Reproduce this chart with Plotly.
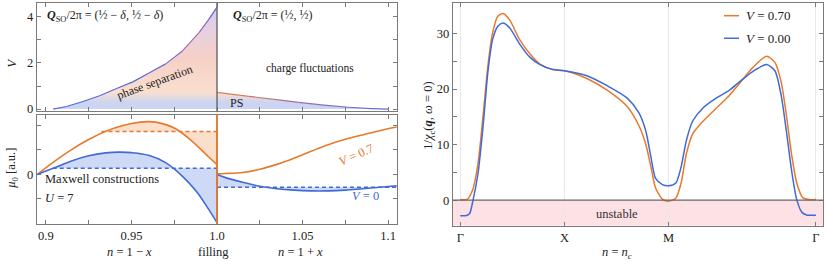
import plotly.graph_objects as go
from plotly.colors import sample_colorscale

# ---------------- data ----------------
# top panel: phase-separation boundary V_c(n)
n_ps_left = [0.9043, 0.912, 0.9217, 0.9314, 0.941, 0.9508, 0.960, 0.970, 0.9798, 0.9895, 0.9953, 1.0]
V_ps_left = [0.0, 0.11, 0.33, 0.58, 0.88, 1.18, 1.55, 1.96, 2.52, 3.31, 3.90, 4.42]
n_ps_right = [1.0, 1.0186, 1.036, 1.0477, 1.0625, 1.0767, 1.09, 1.1]
V_ps_right = [0.72, 0.55, 0.40, 0.29, 0.17, 0.08, 0.02, 0.0]

# bottom panel: mu_0(n)
n_hole = [0.895, 0.905, 0.915, 0.925, 0.935, 0.945, 0.955, 0.960, 0.965, 0.975, 0.985, 0.995, 1.0]
mu_hole_V07 = [0.0, 0.53, 1.01, 1.42, 1.76, 1.99, 2.13, 2.15, 2.12, 1.89, 1.38, 0.72, 0.40]
n_hole_b = [0.895, 0.905, 0.915, 0.925, 0.935, 0.943, 0.950, 0.960, 0.970, 0.980, 0.988, 0.994, 1.0]
mu_hole_V0 = [0.0, 0.27, 0.55, 0.76, 0.88, 0.91, 0.89, 0.78, 0.48, -0.09, -0.70, -1.30, -1.96]
n_elec = [1.0, 1.005, 1.015, 1.025, 1.035, 1.045, 1.055, 1.065, 1.075, 1.085, 1.095, 1.105]
mu_elec_V07 = [0.03, 0.04, 0.08, 0.21, 0.41, 0.66, 0.94, 1.21, 1.43, 1.61, 1.78, 1.93]
mu_elec_V0 = [0.0, -0.13, -0.32, -0.48, -0.58, -0.64, -0.67, -0.67, -0.64, -0.58, -0.52, -0.46]

# Maxwell constructions: (start, end, level)
maxwell_V07_hole = (0.9325, 1.0, 1.75)
maxwell_V0_hole = (0.904, 1.0, 0.25)
maxwell_V0_elec = (1.0, 1.105, -0.52)
n_half = 1.0

# axis ticks
x_major = [0.9, 0.95, 1.0, 1.05, 1.1]
x_major_labels = ["0.9", "0.95", "1.0", "1.05", "1.1"]
x_minor = [0.925, 0.975, 1.025, 1.075]

# right panel: 1/chi_c along Gamma-X-M-Gamma
k_ticks = [0, 1, 2, 3.414]
k_labels = ["Γ", "X", "M", "Γ"]
s_V07 = [0, 0.07, 0.12, 0.17, 0.22, 0.265, 0.31, 0.36, 0.41, 0.475, 0.57, 0.67, 0.765, 0.89, 1.0,
         1.215, 1.41, 1.60, 1.715, 1.78, 1.83, 1.875, 1.94, 2.0, 2.07, 2.12, 2.17, 2.23, 2.33, 2.46,
         2.585, 2.68, 2.81, 2.94, 3.02, 3.08, 3.13, 3.18, 3.23, 3.29, 3.35, 3.414]
chi_V07 = [0.1, 0.2, 1.9, 6.6, 15.4, 24.2, 30.1, 33.1, 33.6, 32.4, 28.9, 26.3, 24.5, 23.5, 23.3,
           21.9, 19.8, 16.9, 13.4, 10.1, 6.0, 2.2, 0.2, -0.2, 0.4, 3.1, 8.3, 11.9, 14.2, 16.6,
           18.9, 21.0, 23.9, 25.9, 24.8, 21.3, 15.4, 8.3, 3.1, 0.4, 0.1, 0.1]
s_V0 = [0, 0.06, 0.09, 0.12, 0.17, 0.22, 0.265, 0.31, 0.36, 0.41, 0.475, 0.57, 0.67, 0.765, 0.89, 1.0,
        1.215, 1.41, 1.60, 1.715, 1.78, 1.83, 1.875, 1.94, 2.0, 2.07, 2.12, 2.17, 2.23, 2.33, 2.46,
        2.585, 2.68, 2.81, 2.94, 3.02, 3.08, 3.13, 3.18, 3.23, 3.28, 3.33, 3.414]
chi_V0 = [-2.8, -2.75, -2.4, -0.2, 4.8, 13.6, 23.1, 28.9, 31.3, 31.9, 31.0, 28.1, 25.7, 24.4, 23.5, 23.3,
          22.4, 20.6, 18.4, 15.7, 12.5, 7.8, 3.9, 2.8, 2.6, 3.1, 6.0, 10.7, 14.2, 16.6, 18.4,
          19.8, 21.3, 23.2, 24.4, 23.3, 18.9, 12.5, 5.4, 0.1, -2.2, -2.7, -2.7]

# ---------------- style ----------------
W, H = 826, 268
def PX(x): return x / W
def PY(y): return 1 - y / H

FONT = "Liberation Serif, Times New Roman, DejaVu Serif, serif"
ORANGE = "#e8792b"
BLUE = "#4169d8"
FRAME = "#7a7a7a"
FILL_SCALE = [[0, "#cad4f4"], [0.08, "#cbd4f2"], [0.18, "#f9dfcf"], [0.5, "#f6d0c6"],
              [0.75, "#e8d0de"], [1, "#d3cdf0"]]
LINE_SCALE_L = [[0, "#4a6ae0"], [0.35, "#5c6ad8"], [0.65, "#9a6cb4"], [0.85, "#8f66c0"], [1, "#5d55d8"]]
LINE_SCALE_R = [[0, "#5a70d8"], [0.5, "#b0709a"], [1, "#e8843a"]]

fig = go.Figure()

# ---- top panel ----
vmax = max(V_ps_left)
for xs, ys in [(n_ps_left, V_ps_left), (n_ps_right, V_ps_right)]:
    fig.add_trace(go.Scatter(x=xs, y=ys, mode="lines", line=dict(width=0, shape="spline"),
                             fill="tozeroy",
                             fillgradient=dict(type="vertical", colorscale=FILL_SCALE, start=0, stop=vmax),
                             xaxis="x", yaxis="y", hoverinfo="skip", showlegend=False))
for i in range(len(n_ps_left) - 1):
    c = sample_colorscale(LINE_SCALE_L, [(V_ps_left[i] + V_ps_left[i + 1]) / 2 / vmax])[0]
    fig.add_trace(go.Scatter(x=n_ps_left[i:i + 2], y=V_ps_left[i:i + 2], mode="lines",
                             line=dict(color=c, width=1.2), xaxis="x", yaxis="y", showlegend=False))
vr = max(V_ps_right)
for i in range(len(n_ps_right) - 1):
    c = sample_colorscale(LINE_SCALE_R, [(V_ps_right[i] + V_ps_right[i + 1]) / 2 / vr])[0]
    fig.add_trace(go.Scatter(x=n_ps_right[i:i + 2], y=V_ps_right[i:i + 2], mode="lines",
                             line=dict(color=c, width=1.2), xaxis="x", yaxis="y", showlegend=False))

# ---- bottom panel: Maxwell shading ----
def maxwell_poly(xs, ys, a, b, lvl):
    inner_x = [x for x in xs if a < x < b]
    inner_y = [y for x, y in zip(xs, ys) if a < x < b]
    px_ = [a] + inner_x + [b]
    py_ = [lvl] + inner_y + [ys[xs.index(b)] if b in xs else lvl]
    if b in xs:
        px_.append(b)
        py_.append(lvl)
    return px_, py_

for xs, ys, (a, b, lvl), fc in [
    (n_hole, mu_hole_V07, maxwell_V07_hole, "rgba(242,170,115,0.38)"),
    (n_hole_b, mu_hole_V0, maxwell_V0_hole, "rgba(120,150,230,0.36)"),
]:
    px_, py_ = maxwell_poly(xs, ys, a, b, lvl)
    fig.add_trace(go.Scatter(x=px_, y=py_, mode="lines", fill="toself", fillcolor=fc,
                             line=dict(width=0), xaxis="x2", yaxis="y2", showlegend=False, hoverinfo="skip"))
# electron side (V=0)
a, b, lvl = maxwell_V0_elec
px_ = [n_elec[0]] + n_elec + [n_elec[-1]]
py_ = [lvl] + mu_elec_V0 + [lvl]
fig.add_trace(go.Scatter(x=px_, y=py_, mode="lines", fill="toself", fillcolor="rgba(120,150,230,0.36)",
                         line=dict(width=0), xaxis="x2", yaxis="y2", showlegend=False, hoverinfo="skip"))

# dashed Maxwell lines
for (a, b, lvl), col in [(maxwell_V07_hole, ORANGE), (maxwell_V0_hole, BLUE), (maxwell_V0_elec, BLUE)]:
    fig.add_trace(go.Scatter(x=[a, b], y=[lvl, lvl], mode="lines",
                             line=dict(color=col, width=1.5, dash="4px,3px"),
                             xaxis="x2", yaxis="y2", showlegend=False))

# curves
for xs, ys, col in [(n_hole, mu_hole_V07, ORANGE), (n_elec, mu_elec_V07, ORANGE),
                    (n_hole_b, mu_hole_V0, BLUE), (n_elec, mu_elec_V0, BLUE)]:
    fig.add_trace(go.Scatter(x=xs, y=ys, mode="lines", line=dict(color=col, width=1.6, shape="spline"),
                             xaxis="x2", yaxis="y2", showlegend=False))
# vertical jump of V=0 curve at half filling
fig.add_trace(go.Scatter(x=[n_half, n_half], y=[mu_hole_V0[-1], maxwell_V0_hole[2]], mode="lines",
                         line=dict(color=BLUE, width=1.6), xaxis="x2", yaxis="y2", showlegend=False))

# ---- right panel ----
fig.add_trace(go.Scatter(x=s_V07, y=chi_V07, mode="lines", line=dict(color=ORANGE, width=1.5, shape="spline", smoothing=0.7),
                         xaxis="x3", yaxis="y3", showlegend=False))
fig.add_trace(go.Scatter(x=s_V0, y=chi_V0, mode="lines", line=dict(color=BLUE, width=1.5, shape="spline", smoothing=0.7),
                         xaxis="x3", yaxis="y3", showlegend=False))

# ---------------- axes ----------------
tickfont = dict(family=FONT, size=12.5, color="#222")
ax_common = dict(showline=True, linecolor=FRAME, linewidth=1.3, mirror="ticks", ticks="inside",
                 ticklen=4, tickcolor=FRAME, tickwidth=1, showgrid=False, zeroline=False,
                 tickfont=tickfont)
def minor(vals):
    return dict(tickvals=vals, ticks="inside", ticklen=4, tickcolor=FRAME, tickwidth=1, showgrid=False)

dom_lx = [PX(37), PX(397)]
fig.update_layout(
    xaxis=dict(domain=dom_lx, range=[0.8948, 1.1052], tickvals=x_major, ticktext=x_major_labels,
               minor=minor(x_minor), showticklabels=False, anchor="y", **ax_common),
    yaxis=dict(domain=[PY(113.5), PY(3)], range=[-0.1, 4.6], tickvals=[0, 2, 4],
               minor=minor([1, 3]), anchor="x", **ax_common),
    xaxis2=dict(domain=dom_lx, range=[0.8948, 1.1052], tickvals=x_major, ticktext=x_major_labels,
                minor=minor(x_minor), anchor="y2", **ax_common),
    yaxis2=dict(domain=[PY(228.3), PY(116.7)], range=[-2.02, 2.44], tickvals=[0],
                minor=minor([-1, 1, 2]), anchor="x2", **ax_common),
    xaxis3=dict(domain=[PX(453), PX(823)], range=[-0.07, 3.482], tickvals=k_ticks, ticktext=k_labels,
                anchor="y3", **{**ax_common, "showgrid": True, "gridcolor": "#e8e8e8", "gridwidth": 1}),
    yaxis3=dict(domain=[PY(230), PY(3)], range=[-4.6, 35.5], tickvals=[0, 10, 20, 30],
                minor=minor([5, 15, 25]), anchor="x3", **ax_common),
)

shapes = [
    # dividers at half filling
    dict(type="line", xref="x", yref="y domain", x0=n_half, x1=n_half, y0=0, y1=1,
         line=dict(color="#666", width=1.4)),
    dict(type="line", xref="x2", yref="y2 domain", x0=n_half, x1=n_half, y0=0, y1=1,
         line=dict(color="#888", width=1.2)),
    dict(type="line", xref="x2", yref="y2 domain", x0=n_half, x1=n_half, y0=0, y1=1,
         line=dict(color=ORANGE, width=1.8)),
    # unstable region
    dict(type="rect", xref="x3 domain", yref="y3", x0=0, x1=1, y0=-4.6, y1=0,
         fillcolor="#fde1e5", line=dict(width=0), layer="below"),
    dict(type="line", xref="x3 domain", yref="y3", x0=0, x1=1, y0=0, y1=0,
         line=dict(color="#666", width=1.3)),
    # legend samples
    dict(type="line", xref="paper", yref="paper", x0=PX(724), x1=PX(739), y0=PY(16), y1=PY(16),
         line=dict(color=ORANGE, width=1.5)),
    dict(type="line", xref="paper", yref="paper", x0=PX(724), x1=PX(739), y0=PY(39), y1=PY(39),
         line=dict(color=BLUE, width=1.5)),
]

def ann(text, x, y, size=12.5, color="#222", angle=0, xanchor="center", yanchor="middle"):
    return dict(text=text, x=PX(x), y=PY(y), xref="paper", yref="paper", showarrow=False,
                font=dict(family=FONT, size=size, color=color), textangle=angle,
                xanchor=xanchor, yanchor=yanchor)

annotations = [
    ann("<b><i>Q</i></b><sub>SO</sub>/2π = (½ − <i>δ</i>, ½ − <i>δ</i>)", 45, 16, size=12, xanchor="left"),
    ann("<b><i>Q</i></b><sub>SO</sub>/2π = (½, ½)", 231, 16, size=12, xanchor="left"),
    ann("charge fluctuations", 310, 70, size=11.5),
    ann("phase separation", 155, 84, size=12, angle=-20),
    ann("PS", 236, 105, size=12),
    ann("Maxwell constructions", 43, 182, size=12.5, xanchor="left"),
    ann("<i>U</i> = 7", 43, 202, size=12.5, xanchor="left"),
    ann("<i>V</i> = 0.7", 356, 158, size=12.5, color=ORANGE, angle=-24),
    ann("<i>V</i> = 0", 365, 200, size=12.5, color=BLUE),
    ann("<i>V</i>", 12, 64, size=13, angle=-90),
    ann("<i>μ</i><sub>0</sub> [a.u.]", 12, 172, size=12.5, angle=-90),
    ann("<i>n</i> = 1 − <i>x</i>", 129, 257, size=12.5),
    ann("filling", 213, 257, size=12.5),
    ann("<i>n</i> = 1 + <i>x</i>", 300, 257, size=12.5),
    ann("unstable", 617, 218, size=12.5, color="#333"),
    ann("<i>V</i> = 0.70", 744, 16, size=13, xanchor="left"),
    ann("<i>V</i> = 0.00", 744, 39, size=13, xanchor="left"),
    ann("1/<i>χ</i><sub>c</sub>(<b><i>q</i></b>, <i>ω</i> = 0)", 429, 118, size=12.5, angle=-90),
    ann("<i>n</i> = <i>n</i><sub><i>c</i></sub>", 617, 258, size=12.5),
]

fig.update_layout(width=W, height=H, margin=dict(l=0, r=0, t=0, b=0), autosize=False,
                  paper_bgcolor="white", plot_bgcolor="white", showlegend=False,
                  shapes=shapes, annotations=annotations, font=dict(family=FONT))

fig.write_html("out.html", config={"displayModeBar": False},
               post_script="document.body.style.margin='0';document.body.style.padding='0';")
